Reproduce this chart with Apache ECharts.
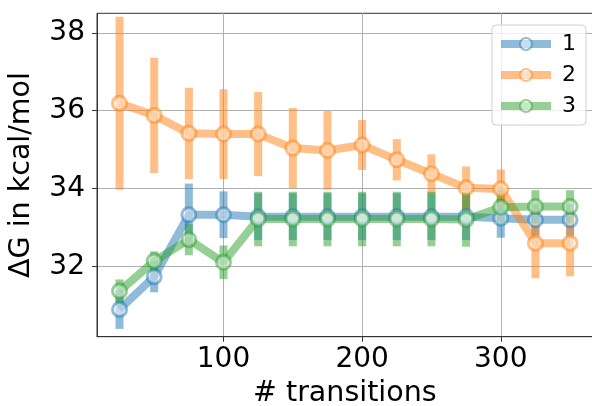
<!DOCTYPE html>
<html>
<head>
<meta charset="utf-8">
<script src="https://cdn.jsdelivr.net/npm/echarts@6/dist/echarts.min.js"></script>
<style>
  html, body { margin: 0; padding: 0; background: #fff; }
  #chart { width: 592px; height: 406px; }
</style>
</head>
<body>
<div id="chart"></div>
<script>
// Number of transitions sampled
const transitions = [25, 50, 75, 100, 125, 150, 175, 200, 225, 250, 275, 300, 325, 350];

// Free-energy estimates (kcal/mol) and their error bars, per run
const dG1 = [30.90, 31.74, 33.33, 33.33, 33.28, 33.28, 33.28, 33.28, 33.28, 33.28, 33.28, 33.24, 33.20, 33.20];
const err1 = [0.50, 0.40, 0.80, 0.60, 0.60, 0.60, 0.60, 0.60, 0.60, 0.60, 0.60, 0.50, 0.40, 0.40];

const dG2 = [36.19, 35.88, 35.42, 35.40, 35.40, 35.04, 34.98, 35.12, 34.74, 34.38, 34.02, 33.99, 32.60, 32.60];
const err2 = [2.22, 1.48, 1.17, 1.15, 1.08, 1.03, 1.01, 0.64, 0.53, 0.50, 0.55, 0.50, 0.90, 0.85];

const dG3 = [31.37, 32.14, 32.69, 32.11, 33.22, 33.22, 33.22, 33.22, 33.22, 33.22, 33.21, 33.52, 33.54, 33.54];
const err3 = [0.30, 0.25, 0.40, 0.43, 0.70, 0.70, 0.70, 0.70, 0.70, 0.70, 0.70, 0.45, 0.42, 0.42];

const runNames = ['1', '2', '3'];
const xTicks = [100, 200, 300];
const yTicks = [32, 34, 36, 38];

const runs = [
  { name: runNames[0], y: dG1, e: err1, rgb: '31,119,180' },
  { name: runNames[1], y: dG2, e: err2, rgb: '255,127,14' },
  { name: runNames[2], y: dG3, e: err3, rgb: '44,160,44' }
];

const FONT = 'DejaVu Sans';

const series = [];
runs.forEach(function (r) {
  const col = 'rgba(' + r.rgb + ',0.5)';
  // vertical error bars
  series.push({
    type: 'custom',
    name: 'err ' + r.name,
    silent: true,
    data: transitions.map(function (x, i) { return [x, r.y[i], r.e[i]]; }),
    encode: { x: 0, y: 1 },
    renderItem: function (params, api) {
      const x = api.value(0), y = api.value(1), e = api.value(2);
      const lo = api.coord([x, y - e]);
      const hi = api.coord([x, y + e]);
      return {
        type: 'line',
        shape: { x1: lo[0], y1: lo[1], x2: hi[0], y2: hi[1] },
        style: { stroke: col, lineWidth: 8 }
      };
    }
  });
  // mean line with hollow markers
  series.push({
    type: 'line',
    name: r.name,
    data: transitions.map(function (x, i) { return [x, r.y[i]]; }),
    symbol: 'circle',
    symbolSize: 14,
    showAllSymbol: true,
    lineStyle: { color: col, width: 8 },
    itemStyle: { color: 'rgba(255,255,255,0.5)', borderColor: col, borderWidth: 3 },
    emphasis: { disabled: true }
  });
});

const chart = echarts.init(document.getElementById('chart'), null, { renderer: 'canvas' });
chart.setOption({
  animation: false,
  backgroundColor: '#fff',
  grid: {
    left: 97, right: -0.6, top: 13.3, bottom: 69.3,
    outerBoundsMode: 'none',
    containLabel: false,
    show: true, borderColor: '#333', borderWidth: 1, backgroundColor: 'transparent'
  },
  legend: {
    data: runNames,
    orient: 'vertical',
    left: 492, top: 25,
    itemWidth: 50, itemHeight: 15, itemGap: 9,
    padding: [8, 10, 8, 5],
    backgroundColor: 'rgba(255,255,255,0.8)',
    borderColor: '#d0d0d0', borderWidth: 1, borderRadius: 4,
    lineStyle: { width: 8 },
    textStyle: { fontFamily: FONT, fontSize: 22, color: '#000', padding: [0, 0, 0, 6] }
  },
  xAxis: {
    type: 'value',
    min: 8.75, max: 366.25,
    name: '# transitions',
    nameLocation: 'middle',
    nameGap: 39,
    nameTextStyle: { fontFamily: FONT, fontSize: 28.5, color: '#000' },
    axisLine: { show: true, lineStyle: { color: '#333', width: 1 } },
    axisTick: { show: true, inside: false, length: 5, customValues: xTicks, lineStyle: { color: '#333' } },
    axisLabel: { customValues: xTicks, margin: 9, fontFamily: FONT, fontSize: 28, color: '#000' },
    splitLine: { show: true, lineStyle: { color: '#b0b0b0', width: 1 } }
  },
  yAxis: {
    type: 'value',
    min: 30.2, max: 38.5,
    name: 'ΔG in kcal/mol',
    nameLocation: 'middle',
    nameGap: 61,
    nameTextStyle: { fontFamily: FONT, fontSize: 28.5, color: '#000' },
    axisLine: { show: true, lineStyle: { color: '#333', width: 1 } },
    axisTick: { show: true, inside: false, length: 5, customValues: yTicks, lineStyle: { color: '#333' } },
    axisLabel: { customValues: yTicks, margin: 12, fontFamily: FONT, fontSize: 28, color: '#000' },
    splitLine: { show: true, lineStyle: { color: '#b0b0b0', width: 1 } }
  },
  series: series
});
</script>
</body>
</html>
